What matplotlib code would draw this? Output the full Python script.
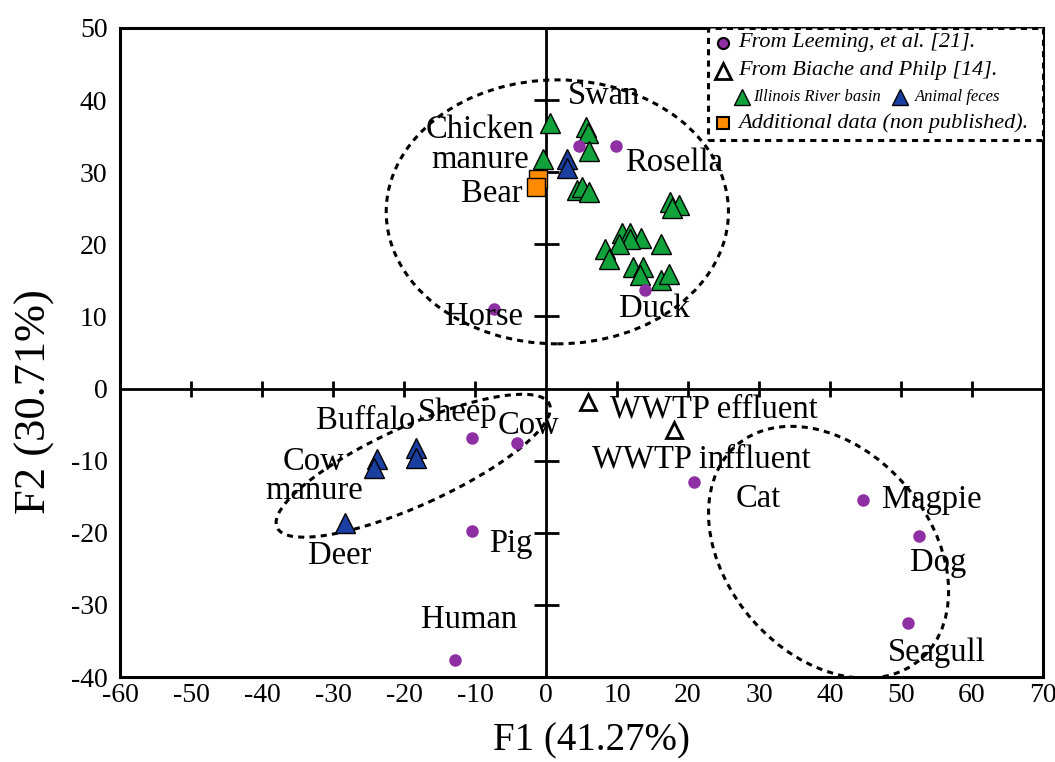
import matplotlib.pyplot as plt
from matplotlib.patches import Ellipse, Rectangle

plt.rcParams['font.family'] = ['Liberation Serif', 'DejaVu Serif']
plt.rcParams['axes.unicode_minus'] = False

PURPLE = '#8E2FA3'
GREEN = '#12A23C'
BLUE = '#1B3FA0'
ORANGE = '#FF8C00'

# Leeming et al. (purple dots)
leeming_x = [4.6, 9.8, -7.3, 13.9, -10.4, -4.1, -10.4, -12.8, 20.9, 44.6, 52.6, 51.0]
leeming_y = [33.7, 33.7, 11.1, 13.7, -6.9, -7.6, -19.8, -37.7, -13.0, -15.5, -20.4, -32.5]

# Biache and Philp, WWTP (open triangles)
wwtp_x = [5.9, 18.1]
wwtp_y = [-1.8, -5.8]

# Biache and Philp, Illinois River basin (green triangles)
river_x = [0.6, 5.6, 5.9, 6.0, -0.4, 4.4, 5.1, 6.0, 17.4, 18.7, 17.7,
           10.7, 11.9, 13.4, 11.9, 10.3, 16.2, 8.3, 8.9,
           12.2, 13.6, 13.2, 16.2, 17.3]
river_y = [36.8, 36.2, 35.5, 33.0, 31.8, 27.5, 28.0, 27.2, 25.8, 25.4, 25.1,
           21.6, 21.6, 20.9, 20.7, 20.1, 20.1, 19.4, 18.0,
           16.8, 16.9, 15.7, 15.1, 15.9]

# Biache and Philp, animal feces (blue triangles)
feces_x = [2.9, 2.9, -18.3, -18.3, -23.8, -24.2, -28.3]
feces_y = [31.8, 30.6, -8.3, -9.6, -9.7, -11.0, -18.7]

# additional data (orange squares)
extra_x = [-1.1, -1.4]
extra_y = [29.0, 27.9]

labels = ['Swan', 'Chicken\nmanure', 'Bear', 'Rosella', 'Horse', 'Duck',
          'WWTP effluent', 'WWTP inffluent', 'Buffalo', 'Sheep', 'Cow',
          'Cow\nmanure', 'Deer', 'Pig', 'Human', 'Cat', 'Magpie', 'Dog', 'Seagull']
label_x = [8.2, -9.3, -7.6, 18.0, -8.7, 15.3, 23.6, 21.9, -25.4, -12.5, -2.4,
           -32.7, -29.0, -4.9, -10.8, 29.9, 54.3, 55.2, 55.1]
label_y = [40.6, 33.8, 27.0, 31.3, 10.0, 11.1, -2.8, -9.8, -4.4, -3.3, -5.1,
           -12.2, -23.2, -21.5, -32.0, -15.3, -15.4, -24.1, -36.6]

xticks = list(range(-60, 71, 10))
yticks = list(range(-40, 51, 10))

fig = plt.figure(figsize=(10.55, 7.62), dpi=100)
rect = [0.1137, 0.1115, 0.8749, 0.8518]

# outer frame with tick labels
ax = fig.add_axes(rect)
ax.set_xlim(-60, 70)
ax.set_ylim(-40, 50)
ax.set_xticks(xticks)
ax.set_yticks(yticks)
ax.tick_params(length=0, labelsize=20)
ax.tick_params(axis='y', pad=9)
ax.tick_params(axis='x', pad=4)
for s in ax.spines.values():
    s.set_linewidth(2.2)
ax.set_xlabel('F1 (41.27%)', fontsize=28)
ax.set_ylabel('F2 (30.71%)', fontsize=32)
ax.xaxis.set_label_coords(0.511, -0.07)
ax.yaxis.set_label_coords(-0.07, 0.424)

# overlay with the axes crossing at zero, holding the data
ax2 = fig.add_axes(rect)
ax2.patch.set_visible(False)
for side in ['top', 'right']:
    ax2.spines[side].set_visible(False)
ax2.spines['left'].set_position(('data', 0))
ax2.spines['bottom'].set_position(('data', 0))
ax2.spines['left'].set_linewidth(2)
ax2.spines['bottom'].set_linewidth(2)
ax2.set_xlim(-60, 70)
ax2.set_ylim(-40, 50)
ax2.set_xticks([t for t in xticks if t not in (-60, 0, 70)])
ax2.set_yticks([t for t in yticks if t not in (-40, 0, 50)])
ax2.tick_params(axis='x', direction='inout', length=11, width=2, labelbottom=False)
ax2.tick_params(axis='y', direction='inout', length=18, width=2, labelleft=False)

# dashed group ellipses
dash = (0, (2, 1.7))
for (cx, cy), w, h, ang in [((1.6, 24.5), 48.2, 36.6, 0),
                             ((-18.7, -10.7), 42, 11, 24),
                             ((39.8, -22.7), 39.4, 28.5, -48)]:
    ax2.add_patch(Ellipse((cx, cy), w, h, angle=ang, fill=False,
                          ls=dash, lw=2.2, ec='black', zorder=3))

ax2.plot(river_x, river_y, '^', ms=14, mfc=GREEN, mec='black', mew=1, ls='none', zorder=4)
ax2.plot(feces_x, feces_y, '^', ms=14, mfc=BLUE, mec='black', mew=1, ls='none', zorder=4)
ax2.plot(extra_x, extra_y, 's', ms=13, mfc=ORANGE, mec='black', mew=1, ls='none', zorder=4)
ax2.plot(wwtp_x, wwtp_y, '^', ms=12, mfc='white', mec='black', mew=2, ls='none', zorder=4)
ax2.plot(leeming_x, leeming_y, 'o', ms=8, mfc=PURPLE, mec=PURPLE, ls='none', zorder=4)

for t, x, y in zip(labels, label_x, label_y):
    ax2.text(x, y, t, fontsize=23.5, ha='center', va='center',
             multialignment='center', linespacing=0.95, zorder=5)

# legend box (top right, dashed)
tr = ax2.transAxes
ax2.add_patch(Rectangle((0.637, 0.827), 0.363, 0.173, transform=tr, fill=True,
                        fc='white', ec='black', lw=2.2, ls=dash, zorder=6))
ax2.plot([0.653], [0.977], 'o', ms=8, mfc=PURPLE, mec='black', mew=1.5, transform=tr, zorder=7, clip_on=False)
ax2.plot([0.653], [0.934], '^', ms=11, mfc='white', mec='black', mew=2, transform=tr, zorder=7, clip_on=False)
ax2.plot([0.674], [0.894], '^', ms=12, mfc=GREEN, mec='black', mew=1, transform=tr, zorder=7, clip_on=False)
ax2.plot([0.845], [0.894], '^', ms=12, mfc=BLUE, mec='black', mew=1, transform=tr, zorder=7, clip_on=False)
ax2.plot([0.653], [0.854], 's', ms=9, mfc=ORANGE, mec='black', mew=1.5, transform=tr, zorder=7, clip_on=False)
leg = [(0.670, 0.977, 'From Leeming, et al. [21].', 16),
       (0.670, 0.934, 'From Biache and Philp [14].', 16),
       (0.686, 0.894, 'Illinois River basin', 12),
       (0.861, 0.894, 'Animal feces', 12),
       (0.670, 0.854, 'Additional data (non published).', 16)]
for x, y, t, fs in leg:
    ax2.text(x, y, t, transform=tr, fontsize=fs, style='italic',
             ha='left', va='center', zorder=7)

fig.savefig('out.png', dpi=100)
